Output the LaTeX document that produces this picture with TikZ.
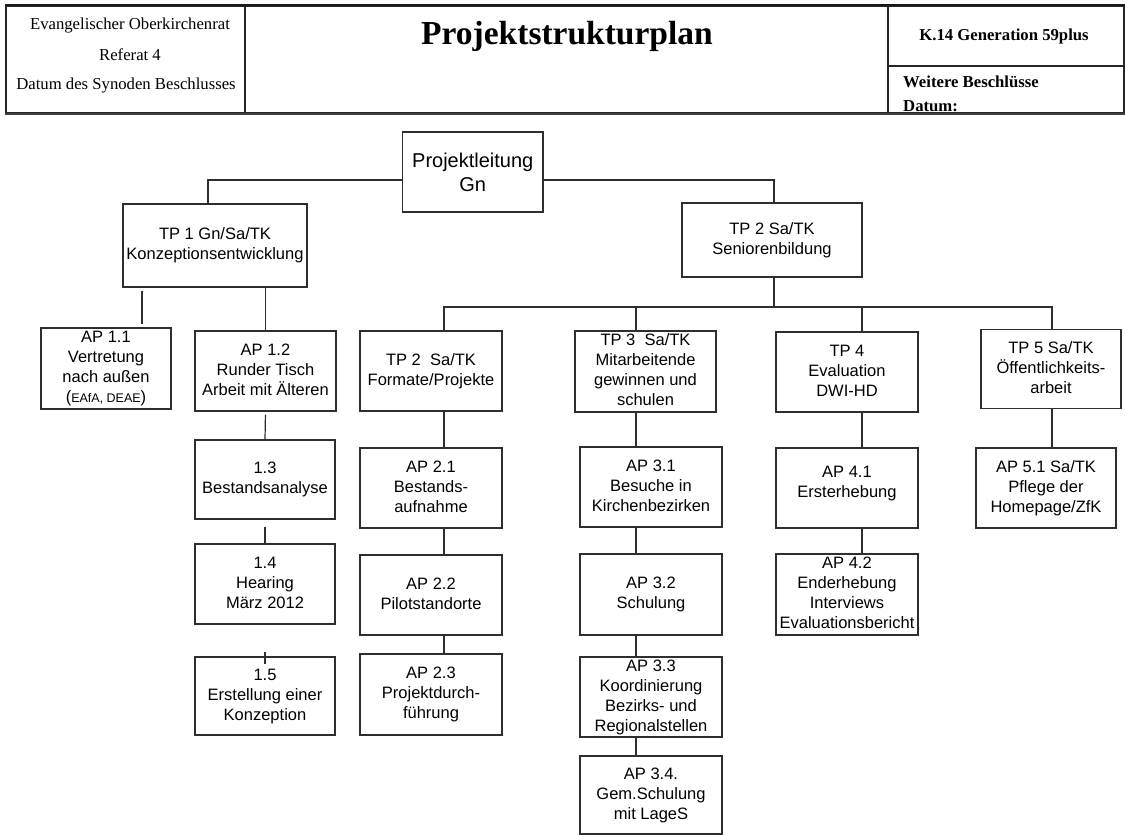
\documentclass[tikz,border=0pt]{standalone}
\usepackage{fontspec}
\setmainfont{Liberation Serif}
\newfontfamily\arialf{Liberation Sans}
\usetikzlibrary{calc}
\definecolor{lc}{HTML}{2E2E2E}
\newcommand\bfsz{\arialf\fontsize{16.5}{20}\selectfont}
\newcommand\plsz{\arialf\fontsize{20}{23.3}\selectfont}
\newcommand\hsz{\fontsize{16.7}{20}\selectfont}
\newcommand\sr{\rule[-6pt]{0pt}{20pt}}
\newcommand\srp{\rule[-4pt]{0pt}{23.3pt}}
\tikzset{
  box/.style={draw=lc, line width=1.2pt, inner sep=0pt, align=center, font=\bfsz},
  conn/.style={draw=lc, line width=1.2pt},
  cell/.style={draw=black!85, line width=1.3pt, inner sep=0pt},
  htext/.style={inner sep=0pt, font=\hsz, anchor=base},
}
\begin{document}
\begin{tikzpicture}[x=1pt,y=-1pt]
\useasboundingbox (0,0) rectangle (1125,835);
% ---------- header table ----------
\node[cell, minimum width=239pt, minimum height=107pt] (hc1) at (125.5,59.5) {};
\node[cell, minimum width=643pt, minimum height=107pt] (hc2) at (566.5,59.5) {};
\node[cell, minimum width=236pt, minimum height=60pt] (hc3) at (1006,36) {};
\node[cell, minimum width=236pt, minimum height=47pt] (hc4) at (1006,89.5) {};
\draw[black!75, line width=2.2pt] (hc1.south west) -- (hc4.south east);
\draw[black!90, line width=1.8pt] (hc1.north west) -- (hc3.north east);
\node[htext] (h1) at (130,30) {Evangelischer Oberkirchenrat};
\node[htext] (h2) at (130,60.5) {Referat 4};
\node[htext] (h3) at (126,89) {Datum des Synoden Beschlusses};
\node[inner sep=0pt, anchor=base, font=\fontsize{33.5}{40}\selectfont\bfseries] (title) at (567,45) {Projektstrukturplan};
\node[htext, font=\hsz\bfseries] (h4) at (1004,40.5) {K.14 Generation 59plus};
\node[htext, font=\hsz\bfseries, anchor=base west] (h5) at (903,87) {Weitere Beschlüsse};
\node[htext, font=\hsz\bfseries, anchor=base west] (h6) at (903,111) {Datum:};
% ---------- level 0 / 1 ----------
\node[box, font=\plsz, minimum width=140.5pt, minimum height=80pt] (pl) at (472.75,172) {\srp Projektleitung\\Gn\srp};
\node[box, minimum width=184pt, minimum height=83pt] (tp1) at (215,245.5) {\sr TP 1 Gn/Sa/TK\\Konzeptionsentwicklung\sr};
\node[box, minimum width=180pt, minimum height=74pt] (tp2s) at (772,240) {\sr TP 2 Sa/TK\\Seniorenbildung\sr};
% ---------- level 2 ----------
\node[box, minimum width=130pt, minimum height=81pt] (ap11) at (106,368.5) {\sr AP 1.1\\Vertretung\\nach außen\\({\fontsize{12.5}{20}\selectfont EAfA, DEAE})\sr};
\node[box, minimum width=141pt, minimum height=80pt] (ap12) at (265.5,371) {\sr AP 1.2\\Runder Tisch\\Arbeit mit Älteren\sr};
\node[box, minimum width=142pt, minimum height=80pt] (tp2f) at (431,371) {\sr TP 2\ \ Sa/TK\\Formate/Projekte\sr};
\node[box, minimum width=141pt, minimum height=81pt] (tp3) at (645.5,371.5) {\sr TP 3\ \ Sa/TK\\Mitarbeitende\\gewinnen und\\schulen\sr};
\node[box, minimum width=142pt, minimum height=80pt] (tp4) at (847,372) {\sr TP 4\\Evaluation\\DWI-HD\sr};
\node[box, minimum width=140pt, minimum height=79pt] (tp5) at (1051,369) {\sr TP 5 Sa/TK\\Öffentlichkeits-\\arbeit\sr};
% ---------- level 3 ----------
\node[box, minimum width=140pt, minimum height=79pt] (n13) at (265,479.5) {\sr 1.3\\Bestandsanalyse\sr};
\node[box, minimum width=140pt, minimum height=80pt] (n14) at (265,584) {\sr 1.4\\Hearing\\März 2012\sr};
\node[box, minimum width=140pt, minimum height=78pt] (n15) at (265,696) {\sr 1.5\\Erstellung einer\\Konzeption\sr};
\node[box, minimum width=142pt, minimum height=80pt] (ap21) at (431,488) {\sr AP 2.1\\Bestands-\\aufnahme\sr};
\node[box, minimum width=142pt, minimum height=80pt] (ap22) at (431,595) {\sr AP 2.2\\Pilotstandorte\sr};
\node[box, minimum width=142pt, minimum height=81pt] (ap23) at (431,694.5) {\sr AP 2.3\\Projektdurch-\\führung\sr};
\node[box, minimum width=142pt, minimum height=80pt] (ap31) at (651,487) {\sr AP 3.1\\Besuche in\\Kirchenbezirken\sr};
\node[box, minimum width=142pt, minimum height=81pt] (ap32) at (651,594.5) {\sr AP 3.2\\Schulung\sr};
\node[box, minimum width=142pt, minimum height=80pt] (ap33) at (651,697) {\sr AP 3.3\\Koordinierung\\Bezirks- und\\Regionalstellen\sr};
\node[box, minimum width=142pt, minimum height=78pt] (ap34) at (651,795) {\sr AP 3.4.\\Gem.Schulung\\mit LageS\sr};
\node[box, minimum width=142pt, minimum height=80pt] (ap41) at (847,488) {\sr AP 4.1\\Ersterhebung\rule[-15pt]{0pt}{1pt}};
\node[box, minimum width=142pt, minimum height=81pt] (ap42) at (847,594.5) {\sr AP 4.2\\Enderhebung\\Interviews\\Evaluationsbericht\sr};
\node[box, minimum width=140pt, minimum height=80pt] (ap51) at (1046,488) {\sr AP 5.1 Sa/TK\\Pflege der\\Homepage/ZfK\sr};
% ---------- connectors ----------
\coordinate (bus) at (774,307);
\draw[conn] ([yshift=-8pt]pl.west) -| ([xshift=-7pt]tp1.north);
\draw[conn] ([yshift=-8pt]pl.east) -| ([xshift=2pt]tp2s.north);
\draw[conn, shorten <=3pt, shorten >=3pt] ([xshift=-73pt]tp1.south) -- ([xshift=36pt]ap11.north);
\draw[conn] (tp1.south -| ap12.north) -- (ap12.north);
\draw[conn, shorten <=3pt] (ap12.south) -- (n13.north);
\draw[conn, shorten <=7pt] (n13.south) -- (n14.north);
\draw[conn] ([yshift=4pt]n15.north) -- ([yshift=-8pt]n15.north);
\draw[conn] ([xshift=2pt]tp2s.south) -- (bus);
\draw[conn] ([xshift=13pt]tp2f.north) |- (bus) -| ([xshift=1pt]tp5.north);
\draw[conn] ([xshift=-9.5pt]tp3.north) |- (bus);
\draw[conn] ([xshift=15pt]tp4.north) |- (bus);
\draw[conn] ([xshift=13pt]tp2f.south) -- ([xshift=13pt]ap21.north);
\draw[conn] ([xshift=13pt]ap21.south) -- ([xshift=13pt]ap22.north);
\draw[conn] ([xshift=13pt]ap22.south) -- ([xshift=13pt]ap23.north);
\draw[conn] ([xshift=-9.5pt]tp3.south) -- ([xshift=-15pt]ap31.north);
\draw[conn] ([xshift=-15pt]ap31.south) -- ([xshift=-15pt]ap32.north);
\draw[conn] ([xshift=-15pt]ap32.south) -- ([xshift=-15pt]ap33.north);
\draw[conn] ([xshift=-15pt]ap33.south) -- ([xshift=-15pt]ap34.north);
\draw[conn] ([xshift=15pt]tp4.south) -- ([xshift=15pt]ap41.north);
\draw[conn] ([xshift=15pt]ap41.south) -- ([xshift=15pt]ap42.north);
\draw[conn] ([xshift=1pt]tp5.south) -- ([xshift=6pt]ap51.north);
\end{tikzpicture}
\end{document}
